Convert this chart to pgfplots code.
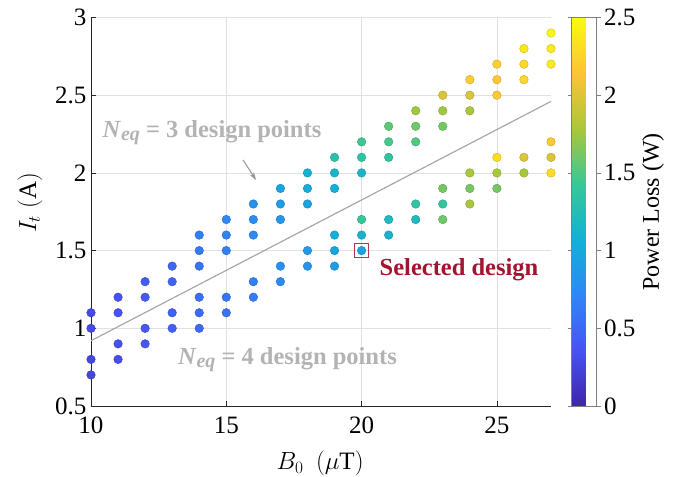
\documentclass[border=0pt]{standalone}
\usepackage{fontspec}
\setmainfont{Liberation Serif}
\usepackage{pgfplots}
\pgfplotsset{compat=1.18}
\usepackage{pgfplotstable}
\usetikzlibrary{arrows.meta}

\definecolor{axcol}{RGB}{38,38,38}
\definecolor{gridcol}{RGB}{225,225,225}
\definecolor{annot}{RGB}{179,179,179}
\definecolor{sepline}{RGB}{168,168,168}
\definecolor{selred}{RGB}{162,20,47}

% B0 (uT), It (A), power loss (W)
\pgfplotstableread{
x y p
10 1.1 0.30
10 1.0 0.29
10 0.8 0.27
10 0.7 0.26
11 1.2 0.36
11 1.1 0.35
11 0.9 0.33
11 0.8 0.32
12 1.3 0.42
12 1.2 0.41
12 1.0 0.39
12 0.9 0.38
13 1.4 0.50
13 1.3 0.48
13 1.1 0.46
13 1.0 0.45
14 1.6 0.65
14 1.5 0.61
14 1.4 0.58
14 1.2 0.55
14 1.1 0.53
14 1.0 0.51
15 1.7 0.72
15 1.6 0.68
15 1.5 0.65
15 1.2 0.60
15 1.1 0.57
16 1.8 0.80
16 1.7 0.77
16 1.6 0.73
16 1.3 0.67
16 1.2 0.64
17 1.9 0.95
17 1.8 0.88
17 1.7 0.84
17 1.4 0.78
17 1.3 0.75
18 2.0 1.10
18 1.9 1.02
18 1.8 0.95
18 1.5 0.87
18 1.4 0.83
19 2.1 1.30
19 2.0 1.15
19 1.9 1.08
19 1.6 1.05
19 1.5 0.98
19 1.4 0.90
20 2.2 1.45
20 2.1 1.35
20 2.0 1.15
20 1.7 1.42
20 1.6 1.12
20 1.5 0.95
21 2.3 1.55
21 2.2 1.47
21 2.1 1.37
21 1.7 1.20
21 1.6 1.12
22 2.4 1.75
22 2.3 1.60
22 2.2 1.50
22 1.8 1.37
22 1.7 1.20
23 2.5 1.98
23 2.4 1.75
23 2.3 1.62
23 1.9 1.62
23 1.8 1.38
23 1.7 1.60
24 2.6 2.20
24 2.5 1.98
24 2.4 1.78
24 2.0 1.78
24 1.9 1.62
24 1.8 1.78
25 2.7 2.22
25 2.6 2.18
25 2.5 2.18
25 2.1 2.30
25 2.0 1.78
25 1.9 1.62
26 2.8 2.38
26 2.7 2.28
26 2.6 2.26
26 2.1 2.00
26 2.0 1.78
27 2.9 2.48
27 2.8 2.40
27 2.7 2.40
27 2.2 2.20
27 2.1 2.00
27 2.0 2.30
}\designs

\newcommand{\Neq}{\textit{N}\raisebox{-0.12em}{\fontsize{20}{20}\selectfont\textit{eq}}}

\begin{document}
\begin{tikzpicture}
\useasboundingbox (-91pt,-71pt) rectangle (582pt,406pt);
\begin{axis}[
  at={(0pt,0pt)}, anchor=south west,
  scale only axis, width=460pt, height=388.5pt,
  xmin=10, xmax=27, ymin=0.5, ymax=3,
  xtick={10,15,20,25}, ytick={0.5,1,1.5,2,2.5,3},
  axis x line*=bottom, axis y line*=left,
  axis line style={axcol, line width=0.7pt, -},
  tick style={axcol, line width=0.7pt},
  tick align=inside, major tick length=5pt,
  grid=major, major grid style={gridcol, line width=0.7pt},
  ticklabel style={font=\fontsize{25}{28}\selectfont},
  xticklabel style={yshift=-7pt},
  yticklabel style={xshift=-1pt},
  /pgf/number format/assume math mode=true,
  xlabel={$B_0\ \ (\mu\mathrm{T})$},
  ylabel={$I_t\;(\mathrm{A})$},
  label style={font=\fontsize{25}{28}\selectfont},
  xlabel style={at={(axis description cs:0.498,-0.147)}, anchor=center},
  ylabel style={at={(axis description cs:-0.133,0.523)}, anchor=center},
  colormap={parula}{rgb255=(62,38,168) rgb255=(72,82,244) rgb255=(46,135,247) rgb255=(18,177,214) rgb255=(55,200,151) rgb255=(171,199,57) rgb255=(254,195,56) rgb255=(249,251,14)},
  point meta min=0, point meta max=2.5,
  colorbar,
  colorbar style={
    at={(parent axis.north east)}, anchor=north west, xshift=12pt,
    scale only axis, width=25pt,
    ytick={0,0.5,1,1.5,2,2.5},
    axis line style={draw=gray},
    tick style={gray, line width=0.6pt},
    tick align=outside, major tick length=4pt,
    yticklabel style={font=\fontsize{25}{28}\selectfont, /pgf/number format/assume math mode=true},
    ylabel={Power Loss (W)},
    ylabel style={font=\fontsize{24}{28}\selectfont},
  },
  clip=false,
]
% boundary between the two design regions
\addplot[sepline, line width=1.2pt] coordinates {(10,0.92) (27,2.46)};

% design points coloured by power loss
\addplot[scatter, only marks, mark=*, mark size=4.3pt, scatter src=explicit]
  table[x=x, y=y, meta=p] {\designs};

% chosen operating point
\addplot[only marks, mark=square, mark size=7pt,
  mark options={draw=selred!85!white, line width=1.1pt}] coordinates {(20,1.5)};

\node[annot, font=\fontsize{24.5}{28}\selectfont\bfseries] at (axis cs:14.47,2.257) {\Neq{} = 3 design points};
\node[annot, font=\fontsize{24.5}{28}\selectfont\bfseries] at (axis cs:17.26,0.796) {\Neq{} = 4 design points};
\node[selred, font=\fontsize{24.5}{28}\selectfont\bfseries] at (axis cs:23.6,1.375) {Selected design};
\draw[-{Stealth[length=8pt,width=5pt]}, gray!85, line width=1pt] (axis cs:15.62,2.083) -- (axis cs:16.10,1.954);
\end{axis}
\end{tikzpicture}
\end{document}
